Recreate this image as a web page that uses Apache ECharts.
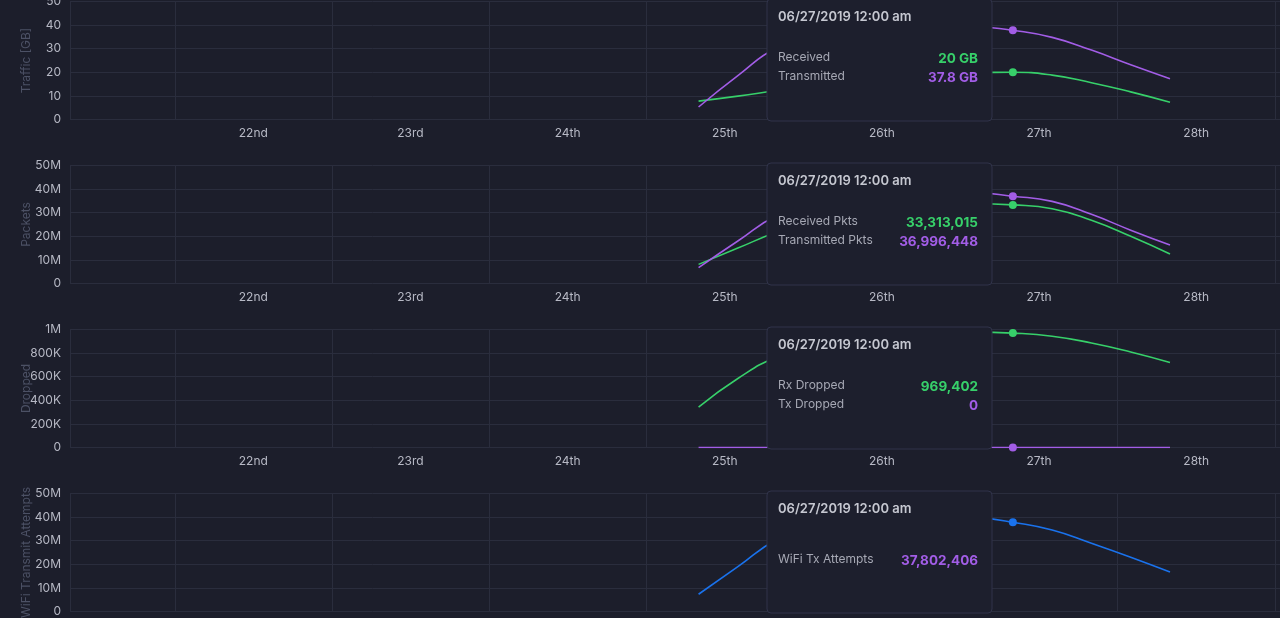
<!DOCTYPE html>
<html>
<head>
<meta charset="utf-8">
<title>Interface stats</title>
<style>
  html, body { margin: 0; padding: 0; background: #1c1e2b; }
  #chart { width: 1280px; height: 618px; }
</style>
<script src="https://cdn.jsdelivr.net/npm/echarts@6.0.0/dist/echarts.min.js"></script>
</head>
<body>
<div id="chart"></div>
<script>
// x is hours since 06/21/2019 00:00, samples every 6h from the 25th to the 28th
const sampleHours = [96, 102, 108, 114, 120, 126, 132, 138, 144, 150, 156, 162, 168];
const dayLabels = ["22nd", "23rd", "24th", "25th", "26th", "27th", "28th"];
const dayLabelHours = [28, 52, 76, 100, 124, 148, 172];
const hoverIndex = 8;
const hoverTitle = "06/27/2019 12:00 am";

// GB
const trafficReceived = [7.8, 9.9, 12.3, 14.5, 16.5, 18.2, 19.3, 19.9, 20, 18.8, 15.6, 11.7, 7.3];
const trafficTransmitted = [5.3, 18.6, 30.5, 35.5, 38.8, 40.5, 41, 39.6, 37.8, 34.8, 29.4, 23.2, 17.3];
// packets
const pktsReceived = [8100000, 15000000, 21800000, 26600000, 30000000, 32200000, 33400000, 33800000, 33313015, 31700000, 26800000, 20000000, 12500000];
const pktsTransmitted = [6700000, 18000000, 28800000, 33800000, 36600000, 38000000, 38600000, 38500000, 36996448, 34800000, 29300000, 22600000, 16300000];
const rxDropped = [343000, 585000, 770000, 870000, 928000, 960000, 975000, 978000, 969402, 943000, 886000, 810000, 721000];
const txDropped = [0, 0, 0, 0, 0, 0, 0, 0, 0, 0, 0, 0, 0];
const wifiTxAttempts = [7300000, 19000000, 30500000, 36000000, 39300000, 41000000, 41300000, 40200000, 37802406, 34500000, 28900000, 23000000, 16700000];

const GREEN = "#37d06a";
const PURPLE = "#a25de6";
const BLUE = "#1a72ec";
const GRID_LINE = "#2a2d3d";
const LABEL = "#b7b9c5";
const NAME = "#4c5165";
const FONT = "Inter, 'Noto Sans', sans-serif";

const fmtM = v => v === 0 ? "0" : (v / 1e6) + "M";
const fmtK = v => v === 0 ? "0" : v >= 1e6 ? (v / 1e6) + "M" : (v / 1e3) + "K";
const fmtCount = v => v.toLocaleString("en-US");

const panels = [
  { name: "Traffic [GB]", max: 50, interval: 10, axisFmt: v => v,
    series: [
      { name: "Received", data: trafficReceived, color: GREEN, text: GREEN, fmt: v => v + " GB" },
      { name: "Transmitted", data: trafficTransmitted, color: PURPLE, text: PURPLE, fmt: v => v + " GB" },
    ] },
  { name: "Packets", max: 50e6, interval: 10e6, axisFmt: fmtM,
    series: [
      { name: "Received Pkts", data: pktsReceived, color: GREEN, text: GREEN, fmt: fmtCount },
      { name: "Transmitted Pkts", data: pktsTransmitted, color: PURPLE, text: PURPLE, fmt: fmtCount },
    ] },
  { name: "Dropped", max: 1e6, interval: 2e5, axisFmt: fmtK,
    series: [
      { name: "Rx Dropped", data: rxDropped, color: GREEN, text: GREEN, fmt: fmtCount },
      { name: "Tx Dropped", data: txDropped, color: PURPLE, text: PURPLE, fmt: fmtCount },
    ] },
  { name: "WiFi Transmit Attempts", max: 50e6, interval: 10e6, axisFmt: fmtM,
    series: [
      { name: "WiFi Tx Attempts", data: wifiTxAttempts, color: BLUE, text: PURPLE, fmt: fmtCount },
    ] },
];

const gridTops = [1.5, 165.5, 329.5, 493.5];
const GRID_H = 118;
const GRID_LEFT = 70;

// split lines sit every 24h starting at hour 16; ticks every 4h -> 6 colours per cycle
const splitColors = ["rgba(0,0,0,0)", "rgba(0,0,0,0)", "rgba(0,0,0,0)", "rgba(0,0,0,0)", GRID_LINE, "rgba(0,0,0,0)"];

const grid = [], xAxis = [], yAxis = [], series = [], graphic = [];

panels.forEach((p, i) => {
  grid.push({ left: GRID_LEFT, right: 0, top: gridTops[i], height: GRID_H, outerBoundsMode: "none", containLabel: false });
  xAxis.push({
    type: "value", gridIndex: i, min: 0, max: 184.8, interval: 4,
    axisLine: { show: false }, axisTick: { show: false },
    splitLine: { show: true, lineStyle: { color: splitColors, width: 1 } },
    axisLabel: {
      color: LABEL, fontFamily: FONT, fontSize: 12, margin: 8, showMinLabel: false, showMaxLabel: false,
      formatter: v => { const k = dayLabelHours.indexOf(v); return k >= 0 ? dayLabels[k] : ""; }
    }
  });
  yAxis.push({
    type: "value", gridIndex: i, min: 0, max: p.max, interval: p.interval,
    name: p.name, nameLocation: "middle", nameRotate: 90, nameGap: 38, nameMoveOverlap: false,
    nameTextStyle: { color: NAME, fontFamily: FONT, fontSize: 12 },
    axisLine: { show: true, lineStyle: { color: GRID_LINE } }, axisTick: { show: false },
    splitLine: { lineStyle: { color: GRID_LINE } },
    axisLabel: { color: LABEL, fontFamily: FONT, fontSize: 12, margin: 9, formatter: p.axisFmt }
  });

  p.series.forEach(s => {
    series.push({
      name: s.name, type: "line", xAxisIndex: i, yAxisIndex: i, smooth: true,
      data: sampleHours.map((h, j) => [h, s.data[j]]),
      symbol: "circle", showSymbol: true,
      symbolSize: (val, params) => params.dataIndex === hoverIndex ? 8 : 0,
      lineStyle: { color: s.color, width: 1.6 },
      itemStyle: { color: s.color },
      silent: true
    });
  });

  // hover box for 06/27 00:00
  const rowY = p.series.length === 1 ? [69.5] : [60, 79];
  const children = [
    { type: "rect", z: 100, shape: { x: 0, y: 0, width: 225, height: 122, r: 4 },
      style: { fill: "#1d1f2d", stroke: "#30334a", lineWidth: 1 } },
    { type: "text", z: 101, x: 11, y: 18,
      style: { text: hoverTitle, fill: "#c6c8d1", font: "600 13px " + FONT, verticalAlign: "middle" } },
  ];
  p.series.forEach((s, k) => {
    children.push({ type: "text", z: 101, x: 11, y: rowY[k] - 1.5,
      style: { text: s.name, fill: "#a6a8b4", font: "12px " + FONT, verticalAlign: "middle" } });
    children.push({ type: "text", z: 101, x: 211, y: rowY[k],
      style: { text: s.fmt(s.data[hoverIndex]), fill: s.text, font: "bold 13.5px " + FONT, align: "right", verticalAlign: "middle" } });
  });
  graphic.push({ type: "group", x: 767, y: gridTops[i] - 2.5, z: 100, children });
});

const chart = echarts.init(document.getElementById("chart"));
chart.setOption({
  backgroundColor: "#1c1e2b",
  animation: false,
  grid, xAxis, yAxis, series, graphic
});
</script>
</body>
</html>
